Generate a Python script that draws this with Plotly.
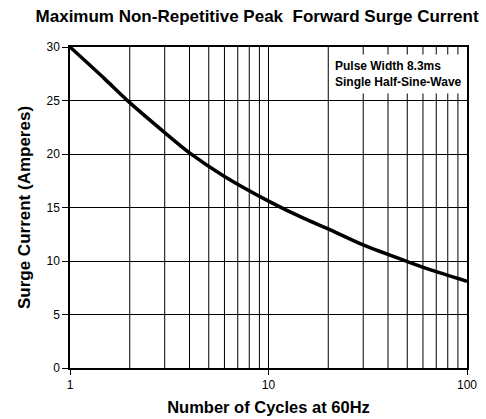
import plotly.graph_objects as go

cycles = [1, 1.5, 2, 3, 4, 6, 10, 15, 20, 30, 50, 70, 100]
surge = [30, 27.0, 24.8, 22.0, 20.1, 17.9, 15.6, 14.0, 13.0, 11.5, 9.95, 9.0, 8.1]

x_ticks = [1, 10, 100]
x_grid = [2, 3, 4, 5, 6, 7, 8, 9, 10, 20, 30, 40, 50, 60, 70, 80, 90]
y_ticks = [0, 5, 10, 15, 20, 25, 30]

fig = go.Figure()
fig.add_trace(go.Scatter(x=cycles, y=surge, mode='lines', line_shape='spline',
                         line=dict(color='black', width=3.5, smoothing=0.8), showlegend=False,
                         hoverinfo='skip'))

for g in x_grid:
    fig.add_shape(type='line', xref='x', yref='paper', x0=g, x1=g, y0=0, y1=1,
                  line=dict(color='black', width=1), layer='below')

fig.update_layout(
    width=486, height=419,
    margin=dict(l=70, r=19, t=47, b=51, autoexpand=False),
    paper_bgcolor='white', plot_bgcolor='white',
    font=dict(family='Liberation Sans, Arial, sans-serif', color='black', size=12),
    title=dict(text='<b>Maximum Non-Repetitive Peak  Forward Surge Current</b>',
               x=0.529, xanchor='center', y=0.975, yanchor='top',
               font=dict(size=17)),
    xaxis=dict(type='log', range=[0, 2], tickvals=x_ticks, ticktext=['1', '10', '100'],
               automargin=False,
               showgrid=False, zeroline=False, showline=True, linecolor='black', linewidth=1.5,
               mirror=True, ticks='outside', ticklen=5, tickcolor='black',
               title=dict(text='<b>Number of Cycles at 60Hz</b>', font=dict(size=16.5), standoff=10)),
    yaxis=dict(range=[0, 30], tickvals=y_ticks, showgrid=True, gridcolor='black', gridwidth=1,
               automargin=False,
               zeroline=False, showline=True, linecolor='black', linewidth=1.5, mirror=True,
               ticks='outside', ticklen=6, tickcolor='black',
               title=dict(text='<b>Surge Current (Amperes)</b>', font=dict(size=17), standoff=12)),
    annotations=[dict(xref='paper', yref='paper', x=0.655, y=0.978, xanchor='left', yanchor='top',
                      text='<b>Pulse Width 8.3ms<br>Single Half-Sine-Wave</b>',
                      showarrow=False, align='left', bgcolor='white', borderpad=4,
                      font=dict(size=12))],
)

fig.write_html('out.html', config={'displayModeBar': False},
               post_script="document.body.style.margin='0';document.body.style.overflow='hidden';")
